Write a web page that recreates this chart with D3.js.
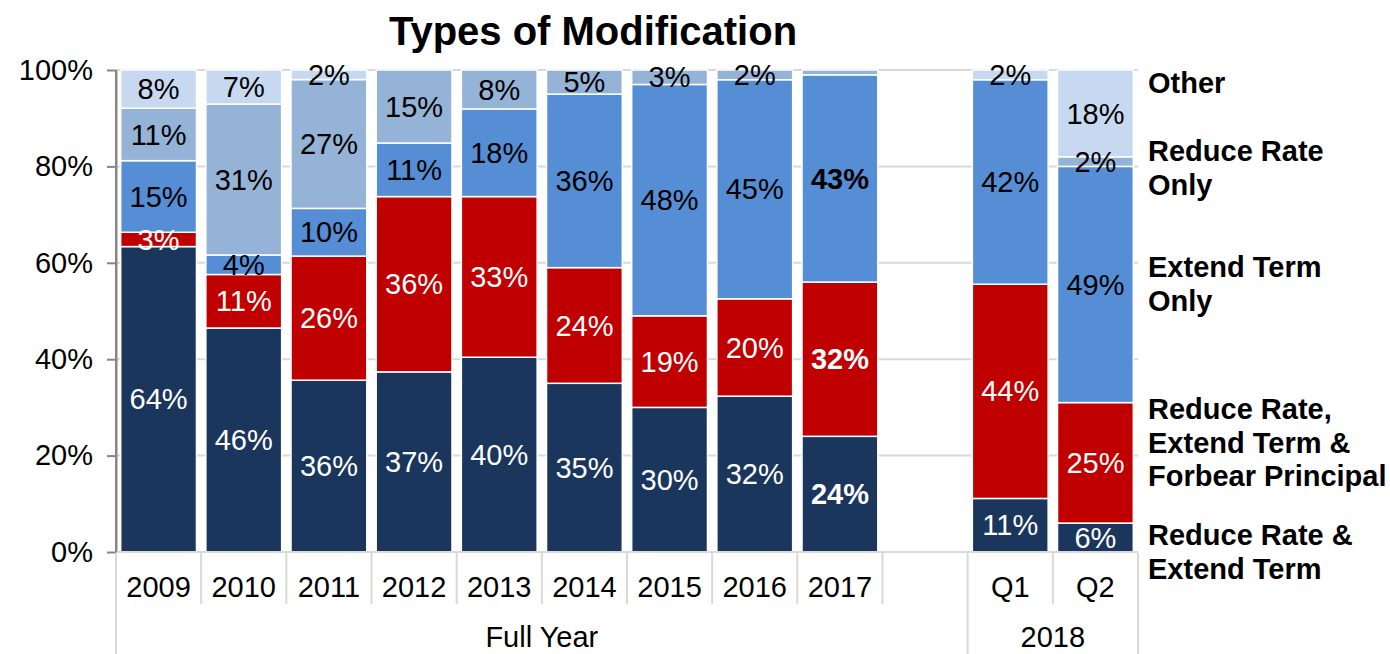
<!DOCTYPE html>
<html>
<head>
<meta charset="utf-8">
<script src="https://cdn.jsdelivr.net/npm/d3@7"></script>
<style>
  body { margin: 0; background: #fff; }
  svg { font-family: "Liberation Sans", Arial, sans-serif; }
</style>
</head>
<body>
<svg id="chart" width="1390" height="654"></svg>
<script>
// categories ("" is the empty slot between 2017 and 2018)
var categories = ["2009", "2010", "2011", "2012", "2013", "2014", "2015", "2016", "2017", "", "Q1", "Q2"];
var groups = [
  { label: "Full Year", first: "2009", last: "" },
  { label: "2018", first: "Q1", last: "Q2" }
];

// series values, percent, bottom to top
var rateExtend        = [64, 46, 36, 37, 40, 35, 30, 32, 24, 0, 11, 6];
var rateExtendForbear = [3, 11, 26, 36, 33, 24, 19, 20, 32, 0, 44, 25];
var extendOnly        = [15, 4, 10, 11, 18, 36, 48, 45, 43, 0, 42, 49];
var rateOnly          = [11, 31, 27, 15, 8, 5, 3, 2, 1, 0, 0, 2];
var other             = [8, 7, 2, 0, 0, 0, 0, 0, 0, 0, 2, 18];

var seriesNames = ["Reduce Rate & Extend Term", "Reduce Rate, Extend Term & Forbear Principal",
                   "Extend Term Only", "Reduce Rate Only", "Other"];
var legendLines = [["Reduce Rate &", "Extend Term"],
                   ["Reduce Rate,", "Extend Term &", "Forbear Principal"],
                   ["Extend Term", "Only"],
                   ["Reduce Rate", "Only"],
                   ["Other"]];
var yTicks = [0, 0.2, 0.4, 0.6, 0.8, 1];
var boldCategories = ["2017"];

var colors = ["#1a365d", "#c00000", "#558ed5", "#95b3d7", "#c6d9f1"];
var labelColors = ["#fff", "#fff", "#000", "#000", "#000"];
var fontSize = "29px";

var svg = d3.select("#chart");

var x = d3.scaleBand().domain(categories).range([116, 1138]).paddingInner(0.11).paddingOuter(0.055);
var y = d3.scaleLinear().domain([0, 1]).range([552, 70]);
var step = x.step();
var edge = function(c) { return x(c) - step * 0.055; };

// build table and 100% stack
var values = [rateExtend, rateExtendForbear, extendOnly, rateOnly, other];
var table = categories.map(function(c, i) {
  var row = { cat: c };
  var total = d3.sum(values, function(v) { return v[i]; });
  seriesNames.forEach(function(s, k) {
    row[s] = total ? values[k][i] / total : 0;
    row["raw" + k] = values[k][i];
  });
  return row;
});
var stacked = d3.stack().keys(seriesNames)(table);

// gridlines
svg.append("g").selectAll("line").data(yTicks.slice(1)).join("line")
  .attr("x1", 116).attr("x2", 1138)
  .attr("y1", function(d) { return y(d); }).attr("y2", function(d) { return y(d); })
  .style("stroke", "#d9d9d9").style("stroke-width", 2);

// bars
var layer = svg.append("g").selectAll("g").data(stacked).join("g")
  .style("fill", function(d, k) { return colors[k]; });

layer.selectAll("rect").data(function(d) { return d.filter(function(p) { return p[1] - p[0] > 0; }); })
  .join("rect")
  .attr("x", function(p) { return x(p.data.cat); })
  .attr("width", x.bandwidth())
  .attr("y", function(p) { return y(p[1]); })
  .attr("height", function(p) { return y(p[0]) - y(p[1]); })
  .style("stroke", "#fff").style("stroke-width", 1.5);

// data labels
stacked.forEach(function(s, k) {
  svg.append("g").selectAll("text")
    .data(s.filter(function(p) { return p.data["raw" + k] >= 2; }))
    .join("text")
    .attr("x", function(p) { return x(p.data.cat) + x.bandwidth() / 2; })
    .attr("y", function(p) { return (y(p[0]) + y(p[1])) / 2; })
    .attr("text-anchor", "middle")
    .attr("dy", "0.35em")
    .style("font-size", fontSize)
    .style("fill", labelColors[k])
    .style("font-weight", function(p) { return boldCategories.indexOf(p.data.cat) >= 0 ? "bold" : "normal"; })
    .text(function(p) { return p.data["raw" + k] + "%"; });
});

// y axis
var yAxis = svg.append("g").attr("transform", "translate(116,0)")
  .call(d3.axisLeft(y).tickValues(yTicks).tickFormat(d3.format(".0%")).tickSizeInner(9).tickSizeOuter(0).tickPadding(14));
yAxis.select(".domain").style("stroke", "#868686").style("stroke-width", 2);
yAxis.selectAll(".tick line").style("stroke", "#868686").style("stroke-width", 2);
yAxis.selectAll("text").style("font-size", fontSize).style("fill", "#000").attr("font-family", null);

// x axis: baseline, category separators, labels
svg.append("line").attr("x1", 116).attr("x2", 1138).attr("y1", 552).attr("y2", 552)
  .style("stroke", "#d9d9d9").style("stroke-width", 2);

var bounds = categories.map(function(c) { return edge(c); }).concat([edge("Q2") + step]);
svg.append("g").selectAll("line").data(bounds).join("line")
  .attr("x1", function(d) { return d; }).attr("x2", function(d) { return d; })
  .attr("y1", 553)
  .attr("y2", function(d, i) { return (i === 0 || i === 10 || i === bounds.length - 1) ? 654 : 604; })
  .style("stroke", "#d9d9d9").style("stroke-width", 2);
svg.append("line").attr("x1", 116).attr("x2", 116).attr("y1", 70).attr("y2", 552)
  .style("stroke", "#868686").style("stroke-width", 2);

svg.append("g").selectAll("text").data(categories).join("text")
  .attr("x", function(c) { return x(c) + x.bandwidth() / 2; })
  .attr("y", 597)
  .attr("text-anchor", "middle")
  .style("font-size", fontSize)
  .text(function(c) { return c; });

svg.append("g").selectAll("text").data(groups).join("text")
  .attr("x", function(g) { return (edge(g.first) + edge(g.last) + step) / 2; })
  .attr("y", 647)
  .attr("text-anchor", "middle")
  .style("font-size", fontSize)
  .text(function(g) { return g.label; });

// legend (series names at right)
var legendTop = [545, 419, 277, 161, 93];
legendLines.forEach(function(lines, k) {
  var t = svg.append("text").attr("x", 1148).attr("y", legendTop[k])
    .style("font-size", fontSize).style("font-weight", "bold");
  lines.forEach(function(line, j) {
    t.append("tspan").attr("x", 1148).attr("dy", j === 0 ? 0 : 33.5).text(line);
  });
});

// title
svg.append("text").attr("x", 593).attr("y", 45).attr("text-anchor", "middle")
  .style("font-size", "40px").style("font-weight", "bold")
  .text("Types of Modification");
</script>
</body>
</html>
